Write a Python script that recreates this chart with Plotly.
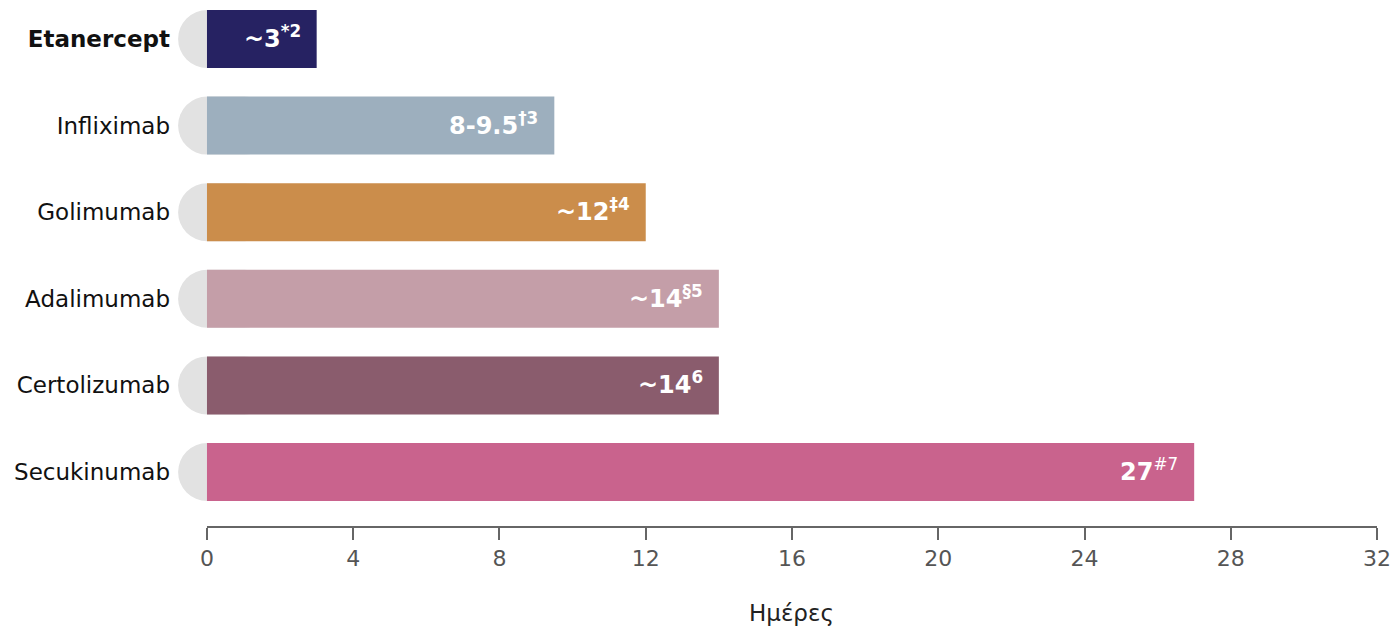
import plotly.graph_objects as go

# Approximate half-life values (days) per biologic
drugs = ["Etanercept", "Infliximab", "Golimumab", "Adalimumab", "Certolizumab", "Secukinumab"]
days = [3, 9.5, 12, 14, 14, 27]
value_main = ["~3", "8-9.5", "~12", "~14", "~14", "27"]
value_refs = ["<b>*2</b>", "<b>†3</b>", "<b>‡4</b>", "<b>§5</b>", "<b>6</b>", "#7"]
bar_colors = ["#262262", "#9dafbe", "#cb8d4b", "#c49ea8", "#8a5c6d", "#c9638d"]
tick_values = [0, 4, 8, 12, 16, 20, 24, 28, 32]

FONT = "DejaVu Sans"
X_MIN, X_MAX = -0.82, 32

# category tick text, first drug emphasised
cat_text = [f"<b>{d}</b>" if i == 0 else d for i, d in enumerate(drugs)]

fig = go.Figure()

# grey rounded track behind each bar start
fig.add_trace(go.Bar(
    y=drugs, x=[2.6] * len(drugs), base=-0.79, orientation="h",
    width=0.67, marker=dict(color="#e2e2e2", cornerradius=29, line_width=0),
    hoverinfo="skip", showlegend=False,
))

fig.add_trace(go.Bar(
    y=drugs, x=days, base=0, orientation="h", width=0.67,
    marker=dict(color=bar_colors, line_width=0),
    showlegend=False,
))

for d, v, main, ref in zip(drugs, days, value_main, value_refs):
    fig.add_annotation(
        x=v, y=d, text=f"<b>{main}</b><sup>{ref}</sup>", showarrow=False,
        xanchor="right", xshift=-14, yshift=2,
        font=dict(family=FONT, size=24, color="white"),
    )

# horizontal axis baseline from 0 to 32
fig.add_shape(type="line", xref="x", yref="paper", x0=0, x1=32, y0=0, y1=0,
              line=dict(color="#666666", width=2))

# axis title centred under the 0-32 span, placed in pixels below the plot area
fig.add_annotation(
    x=16, xref="x", y=0, yref="paper", yshift=-86, text="Ημέρες", showarrow=False,
    font=dict(family=FONT, size=23, color="#222222"), yanchor="middle",
)

fig.update_layout(
    width=1397, height=631,
    margin=dict(l=177, r=20, t=0, b=104),
    paper_bgcolor="white", plot_bgcolor="white",
    barmode="overlay",
    font=dict(family=FONT, color="#111111"),
)

fig.update_xaxes(
    range=[X_MIN, X_MAX], tickvals=tick_values, ticktext=[str(t) for t in tick_values],
    ticks="outside", ticklen=12, tickwidth=1.5, tickcolor="#666666",
    showgrid=False, zeroline=False, showline=False,
    tickfont=dict(family=FONT, size=22, color="#555555"),
)
fig.update_yaxes(
    categoryorder="array", categoryarray=drugs, autorange=False, range=[5.635, -0.45],
    tickvals=drugs, ticktext=cat_text,
    showgrid=False, zeroline=False, showline=False, ticks="",
    ticklabelstandoff=6,
    tickfont=dict(family=FONT, size=23, color="#111111"),
)

fig.write_html("out.html")
